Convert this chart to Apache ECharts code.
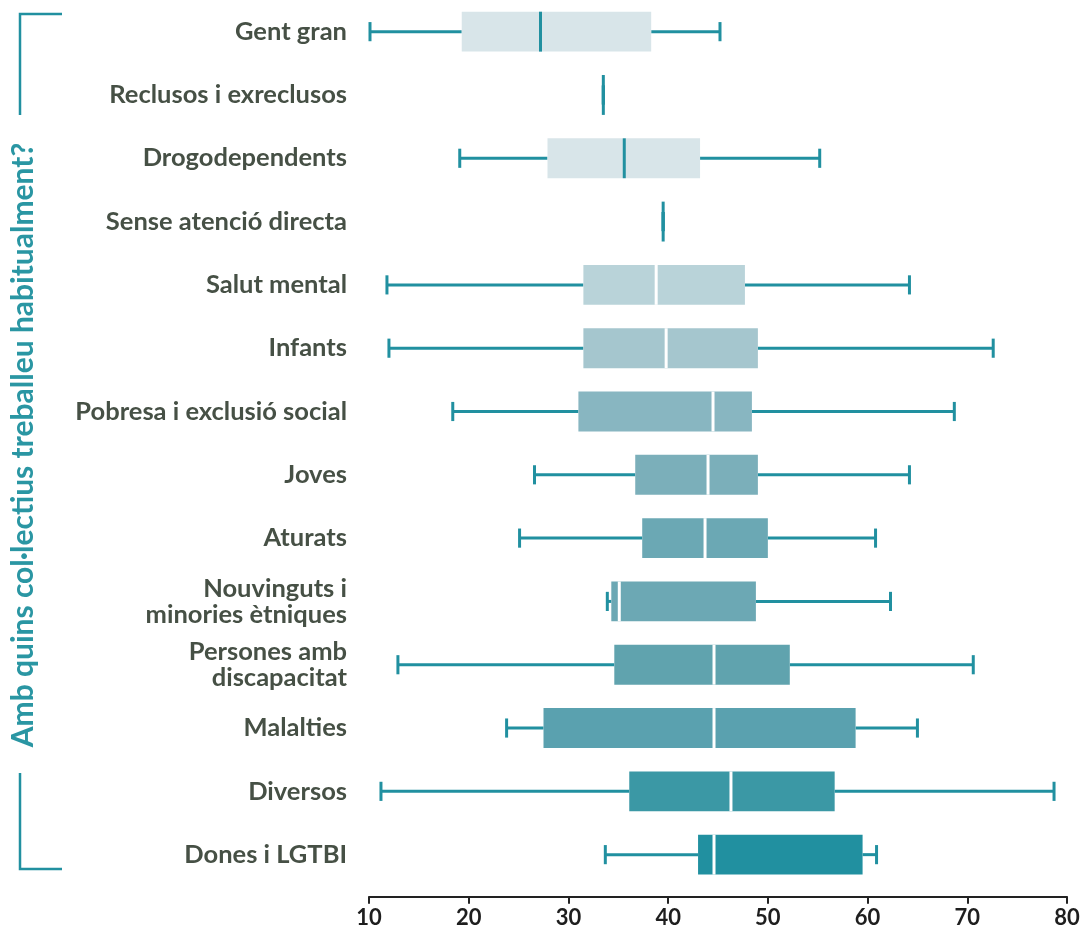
<!DOCTYPE html>
<html>
<head>
<meta charset="utf-8">
<script src="https://cdn.jsdelivr.net/npm/echarts@6/dist/echarts.min.js"></script>
<style>
html,body{margin:0;padding:0;background:#fff;}
#chart{width:1083px;height:932px;}
</style>
</head>
<body>
<div id="chart"></div>
<script>
var categories = [
  'Gent gran', 'Reclusos i exreclusos', 'Drogodependents', 'Sense atenció directa',
  'Salut mental', 'Infants', 'Pobresa i exclusió social', 'Joves', 'Aturats',
  'Nouvinguts i\nminories ètniques', 'Persones amb\ndiscapacitat', 'Malalties',
  'Diversos', 'Dones i LGTBI'
];
var lowValues    = [10.1, 33.5, 19.1, 39.5, 11.8, 12.0, 18.4, 26.6, 25.1, 33.9, 12.9, 23.8, 11.2, 33.7];
var q1Values     = [19.3, 33.5, 27.9, 39.5, 31.5, 31.5, 31.0, 36.7, 37.4, 34.3, 34.6, 27.5, 36.1, 43.0];
var medianValues = [27.2, 33.5, 35.6, 39.5, 38.8, 39.8, 44.5, 44.0, 43.7, 35.1, 44.6, 44.6, 46.3, 44.6];
var q3Values     = [38.3, 33.5, 43.2, 39.5, 47.7, 49.0, 48.4, 49.0, 50.0, 48.8, 52.2, 58.8, 56.7, 59.5];
var highValues   = [45.2, 33.5, 55.2, 39.5, 64.2, 72.6, 68.7, 64.2, 60.8, 62.3, 70.6, 65.0, 78.7, 60.9];
var xTicks = [10, 20, 30, 40, 50, 60, 70, 80];

var boxColors = ['#d8e5e9', '#d8e5e9', '#d8e5e9', '#d8e5e9', '#b9d3d9', '#a5c6ce', '#88b6c1',
  '#7bafba', '#6ba8b4', '#6ca8b4', '#60a3ae', '#5aa1af', '#3b98a5', '#2190a0'];
var medianColors = ['#2190a0', '#2190a0', '#2190a0', '#2190a0', '#fff', '#fff', '#fff',
  '#fff', '#fff', '#fff', '#fff', '#fff', '#fff', '#fff'];
var teal = '#2190a0';

var data = categories.map(function (c, i) {
  return [i, lowValues[i], q1Values[i], medianValues[i], q3Values[i], highValues[i]];
});

function renderItem(params, api) {
  var i = api.value(0);
  var pLow = api.coord([api.value(1), i]);
  var pQ1 = api.coord([api.value(2), i]);
  var pMed = api.coord([api.value(3), i]);
  var pQ3 = api.coord([api.value(4), i]);
  var pHigh = api.coord([api.value(5), i]);
  var band = api.size([0, 1])[1];
  var bh = band * 0.63;
  var ch = bh * 0.48;
  var y = pMed[1];
  var lw = 3;
  var children = [
    {type: 'line', shape: {x1: pLow[0], y1: y, x2: pQ1[0], y2: y}, style: {stroke: teal, lineWidth: lw}},
    {type: 'line', shape: {x1: pQ3[0], y1: y, x2: pHigh[0], y2: y}, style: {stroke: teal, lineWidth: lw}},
    {type: 'line', shape: {x1: pLow[0], y1: y - ch / 2, x2: pLow[0], y2: y + ch / 2}, style: {stroke: teal, lineWidth: lw}},
    {type: 'line', shape: {x1: pHigh[0], y1: y - ch / 2, x2: pHigh[0], y2: y + ch / 2}, style: {stroke: teal, lineWidth: lw}},
    {type: 'rect', shape: {x: pQ1[0], y: y - bh / 2, width: pQ3[0] - pQ1[0], height: bh}, style: {fill: boxColors[i]}},
    {type: 'line', shape: {x1: pMed[0], y1: y - bh / 2, x2: pMed[0], y2: y + bh / 2}, style: {stroke: medianColors[i], lineWidth: lw}}
  ];
  return {type: 'group', children: children};
}

var chart = echarts.init(document.getElementById('chart'), null, {renderer: 'canvas'});
chart.setOption({
  animation: false,
  backgroundColor: '#fff',
  grid: {left: 369, right: 16, top: -2.2, bottom: 45.7, containLabel: false},
  xAxis: {
    type: 'value', min: 10, max: 80, interval: 10, offset: 10.5,
    axisLine: {show: true, lineStyle: {color: '#222', width: 2}},
    axisTick: {show: true, length: 7, lineStyle: {color: '#222', width: 2}},
    splitLine: {show: false},
    axisLabel: {
      color: '#1e1e1e', fontSize: 22, fontWeight: 'bold', fontFamily: 'Lato', margin: 10,
      formatter: function (v) { return xTicks.indexOf(v) >= 0 ? String(v) : ''; }
    }
  },
  yAxis: {
    type: 'category', data: categories, inverse: true,
    axisLine: {show: false}, axisTick: {show: false}, splitLine: {show: false},
    axisLabel: {
      color: '#465045', fontSize: 25.5, fontWeight: 'bold', fontFamily: 'Lato',
      margin: 22, lineHeight: 26, align: 'right'
    }
  },
  series: [{
    type: 'custom',
    renderItem: renderItem,
    encode: {x: [1, 2, 3, 4, 5], y: 0},
    data: data
  }],
  graphic: [
    {type: 'polyline', shape: {points: [[62, 14], [20, 14], [20, 115]]}, style: {stroke: teal, lineWidth: 2.5, fill: null}},
    {type: 'polyline', shape: {points: [[20, 773], [20, 869], [62, 869]]}, style: {stroke: teal, lineWidth: 2.5, fill: null}},
    {type: 'text', x: 23, y: 445, rotation: Math.PI / 2,
     style: {text: 'Amb quins col·lectius treballeu habitualment?', fill: '#2a96a3',
       font: 'bold 30px Lato', textAlign: 'center', textVerticalAlign: 'middle'}}
  ]
});
</script>
</body>
</html>
